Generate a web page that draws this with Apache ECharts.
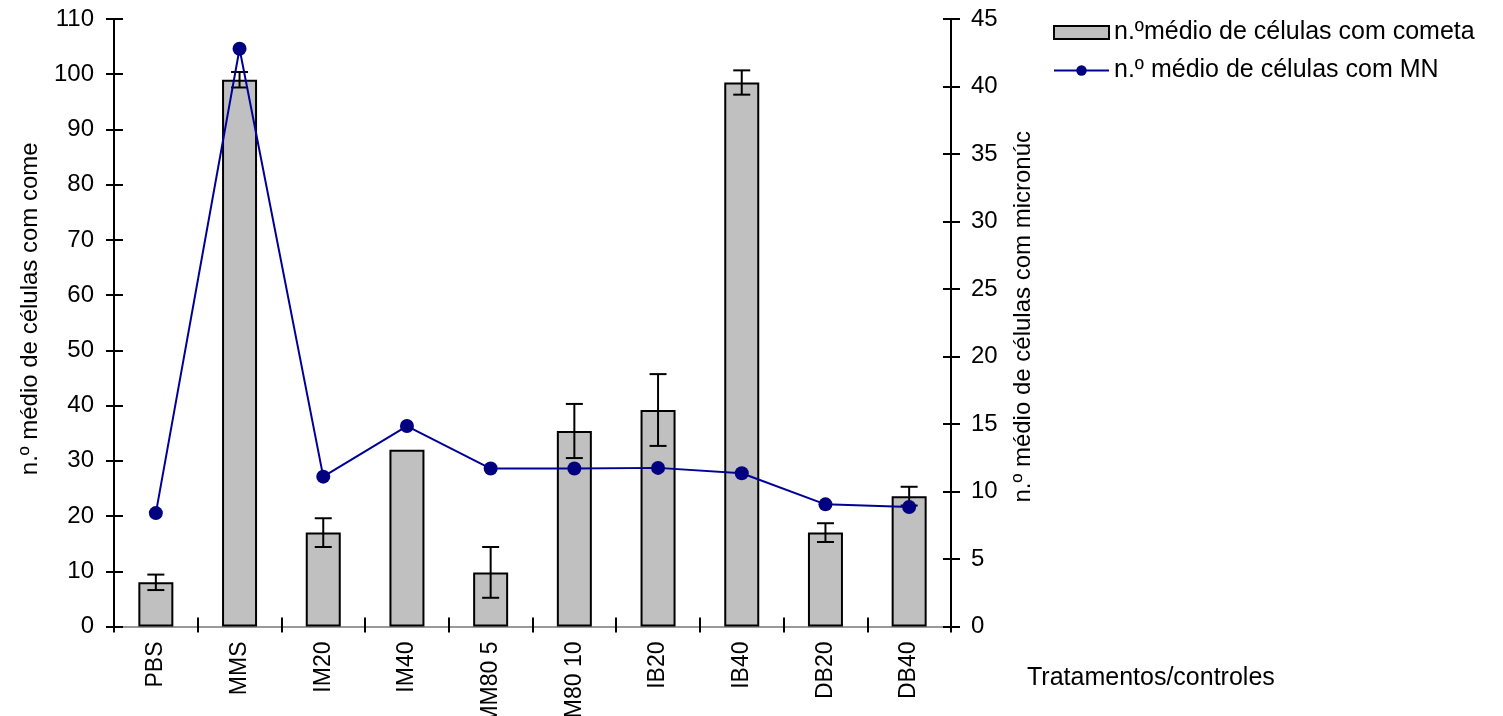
<!DOCTYPE html>
<html>
<head>
<meta charset="utf-8">
<script src="https://cdn.jsdelivr.net/npm/echarts@6/dist/echarts.min.js"></script>
<style>html,body{margin:0;padding:0;background:#fff;}#chart{width:1503px;height:716px;}</style>
</head>
<body>
<div id="chart"></div>
<script>
const categories = ['PBS','MMS','IM20','IM40','IMM80 5','IMM80 10','IB20','IB40','DB20','DB40'];
const cometMeans = [8, 99, 17, 32, 9.8, 35.4, 39.2, 98.5, 17, 23.6];
const cometErrors = [1.4, 1.4, 2.6, 0, 4.6, 4.9, 6.5, 2.2, 1.7, 1.7];
const mnMeans = [8.4, 42.8, 11.1, 14.85, 11.7, 11.7, 11.75, 11.35, 9.05, 8.85];
const leftTicks = {min: 0, max: 110, interval: 10};
const rightTicks = {min: 0, max: 45, interval: 5};

const FONT = "'Liberation Sans', Arial, sans-serif";
const chart = echarts.init(document.getElementById('chart'));

const errorData = categories.map((c, i) => [i, cometMeans[i], cometErrors[i]]);

chart.setOption({
  animation: false,
  textStyle: {fontFamily: FONT, color: '#000'},
  grid: {left: 114, right: 552, top: 19, bottom: 89.5, containLabel: false, outerBoundsMode: 'none'},
  legend: {
    left: 1048, top: 15, orient: 'vertical',
    itemWidth: 55, itemHeight: 13, itemGap: 13,
    textStyle: {fontSize: 25, color: '#000', fontFamily: FONT},
    data: [
      {name: 'n.ºmédio de células com cometa', icon: 'rect'},
      {name: 'n.º médio de células com MN'}
    ]
  },
  xAxis: [
    {
      type: 'category', data: categories, position: 'bottom',
      axisLine: {lineStyle: {color: '#000', width: 2}},
      axisTick: {show: true, length: 6, lineStyle: {color: '#000', width: 2}},
      axisLabel: {rotate: 90, fontSize: 23, margin: 15, color: '#000', fontFamily: FONT, interval: 0},
      name: 'Tratamentos/controles', nameLocation: 'end', nameGap: 76,
      nameTextStyle: {fontSize: 25, color: '#000', fontFamily: FONT, verticalAlign: 'top', padding: [39, 0, 0, 0]}
    },
    {
      type: 'category', data: categories, position: 'bottom',
      axisLine: {show: false},
      axisTick: {show: true, inside: true, length: 9, lineStyle: {color: '#000', width: 2}},
      axisLabel: {show: false}
    },
    {
      type: 'category', data: categories, position: 'top',
      axisLine: {show: true, lineStyle: {color: '#999', width: 2}},
      axisTick: {show: false}, axisLabel: {show: false}
    }
  ],
  yAxis: [
    {
      type: 'value', position: 'left', min: leftTicks.min, max: leftTicks.max, interval: leftTicks.interval,
      axisLine: {show: true, lineStyle: {color: '#000', width: 2}},
      axisTick: {show: true, length: 8, lineStyle: {color: '#000', width: 2}},
      axisLabel: {fontSize: 24, margin: 20, color: '#000', fontFamily: FONT},
      splitLine: {show: false},
      name: 'n.º médio de células com come', nameLocation: 'middle', nameGap: 72, nameRotate: 90,
      nameTextStyle: {fontSize: 24, color: '#000', fontFamily: FONT, padding: [0, 0, 0, 28]}
    },
    {
      type: 'value', position: 'right', min: rightTicks.min, max: rightTicks.max, interval: rightTicks.interval,
      axisLine: {show: true, lineStyle: {color: '#000', width: 2}},
      axisTick: {show: true, length: 9, lineStyle: {color: '#000', width: 2}},
      axisLabel: {fontSize: 24, margin: 20, color: '#000', fontFamily: FONT},
      splitLine: {show: false},
      name: 'n.º médio de células com micronúc', nameLocation: 'middle', nameGap: 60, nameRotate: 90,
      nameTextStyle: {fontSize: 24, color: '#000', fontFamily: FONT, padding: [0, 0, 0, 12]}
    },
    {
      type: 'value', position: 'left', min: leftTicks.min, max: leftTicks.max, interval: leftTicks.interval,
      axisLine: {show: false},
      axisTick: {show: true, inside: true, length: 9, lineStyle: {color: '#000', width: 2}},
      axisLabel: {show: false}, splitLine: {show: false}
    },
    {
      type: 'value', position: 'right', min: rightTicks.min, max: rightTicks.max, interval: rightTicks.interval,
      axisLine: {show: false},
      axisTick: {show: true, inside: true, length: 8, lineStyle: {color: '#000', width: 2}},
      axisLabel: {show: false}, splitLine: {show: false}
    }
  ],
  series: [
    {
      name: 'n.ºmédio de células com cometa', type: 'bar', xAxisIndex: 0, yAxisIndex: 0,
      data: cometMeans, barWidth: 35, z: 2,
      itemStyle: {color: '#C0C0C0', borderColor: '#000', borderWidth: 2}
    },
    {
      name: 'errors', type: 'custom', xAxisIndex: 0, yAxisIndex: 0, z: 3,
      data: errorData,
      renderItem: function (params, api) {
        const err = api.value(2);
        if (!err) return null;
        const x = api.value(0), v = api.value(1);
        const top = api.coord([x, v + err]);
        const bot = api.coord([x, v - err]);
        const hw = 8.5;
        const st = {stroke: '#000', lineWidth: 2};
        return {type: 'group', children: [
          {type: 'line', shape: {x1: top[0], y1: top[1], x2: bot[0], y2: bot[1]}, style: st},
          {type: 'line', shape: {x1: top[0] - hw, y1: top[1], x2: top[0] + hw, y2: top[1]}, style: st},
          {type: 'line', shape: {x1: bot[0] - hw, y1: bot[1], x2: bot[0] + hw, y2: bot[1]}, style: st}
        ]};
      }
    },
    {
      name: 'n.º médio de células com MN', type: 'line', xAxisIndex: 0, yAxisIndex: 1, z: 4,
      data: mnMeans, symbol: 'circle', symbolSize: 14,
      lineStyle: {color: '#000099', width: 2},
      itemStyle: {color: '#000080'}
    }
  ]
});
</script>
</body>
</html>
